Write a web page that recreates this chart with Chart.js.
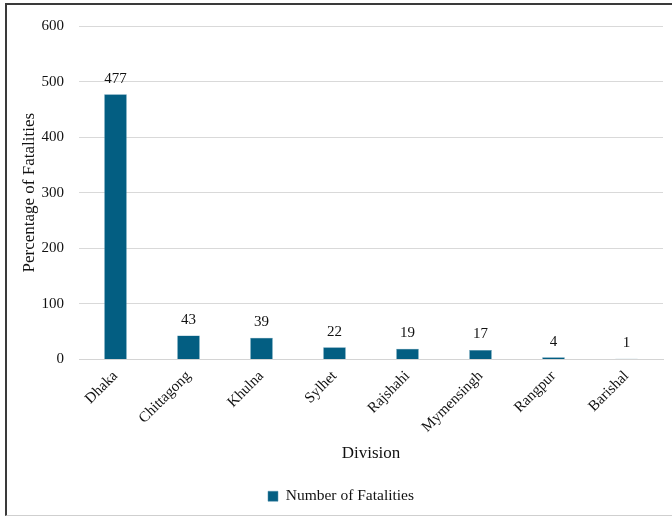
<!DOCTYPE html>
<html>
<head>
<meta charset="utf-8">
<script src="https://cdn.jsdelivr.net/npm/chart.js@4/dist/chart.umd.min.js"></script>
<style>
  html, body { margin: 0; padding: 0; background: #fff; }
  #frame {
    position: absolute; left: 5px; top: 3px; width: 667px; height: 513px;
    border-left: 2px solid #3a3a3a; border-top: 2px solid #3a3a3a;
    border-bottom: 1px solid #cfcfcf; box-sizing: border-box;
  }
  #chart { display: block; }
</style>
</head>
<body>
<div id="frame"><canvas id="chart" width="665" height="510"></canvas></div>
<script>
// Fatalities per division
const divisions = ['Dhaka', 'Chittagong', 'Khulna', 'Sylhet', 'Rajshahi', 'Mymensingh', 'Rangpur', 'Barishal'];
const fatalities = [477, 43, 39, 22, 19, 17, 4, 1];
const yTicks = [0, 100, 200, 300, 400, 500, 600];

const barColor = '#035e82';
const serif = "'Liberation Serif', 'Times New Roman', serif";

// value labels above each bar
const valueLabels = {
  id: 'valueLabels',
  afterDatasetsDraw(chart) {
    const ctx = chart.ctx;
    const meta = chart.getDatasetMeta(0);
    ctx.save();
    ctx.font = '15px ' + serif;
    ctx.fillStyle = '#111';
    ctx.textAlign = 'center';
    ctx.textBaseline = 'bottom';
    meta.data.forEach((bar, i) => {
      ctx.fillText(String(fatalities[i]), bar.x, bar.y - 8);
    });
    ctx.restore();
  }
};

new Chart(document.getElementById('chart'), {
  type: 'bar',
  data: {
    labels: divisions,
    datasets: [{
      label: 'Number of Fatalities',
      data: fatalities,
      backgroundColor: barColor,
      borderColor: '#4f8fab',
      borderWidth: 0.5,
      categoryPercentage: 1,
      barPercentage: 0.31
    }]
  },
  options: {
    responsive: false,
    animation: false,
    layout: { padding: { top: 21, right: 9, left: 12, bottom: 1 } },
    plugins: {
      legend: {
        position: 'bottom',
        labels: {
          font: { family: serif, size: 15.5 },
          color: '#111',
          boxWidth: 10,
          boxHeight: 10,
          padding: 14
        }
      },
      tooltip: { enabled: false }
    },
    scales: {
      x: {
        grid: { display: false },
        border: { color: '#d4d4d4', width: 1 },
        ticks: {
          font: { family: serif, size: 15 },
          color: '#111',
          minRotation: 45,
          maxRotation: 45,
          padding: 0
        },
        title: {
          display: true,
          text: 'Division',
          font: { family: serif, size: 17 },
          color: '#111',
          padding: { top: 7, bottom: 11 }
        }
      },
      y: {
        min: 0,
        max: 600,
        afterBuildTicks(scale) { scale.ticks = yTicks.map(v => ({ value: v })); },
        afterFit(scale) {
          scale.width = 60;
          // tick padding would otherwise push the plot top down
          scale.paddingTop = 0;
          scale.paddingBottom = 0;
        },
        grid: { color: '#d9d9d9', drawTicks: false },
        border: { display: false },
        ticks: {
          font: { family: serif, size: 15 },
          color: '#111',
          padding: 15
        },
        title: {
          display: true,
          text: 'Percentage of Fatalities',
          font: { family: serif, size: 17 },
          color: '#111',
          padding: { top: 0, bottom: 0 }
        }
      }
    }
  },
  plugins: [valueLabels]
});
</script>
</body>
</html>
